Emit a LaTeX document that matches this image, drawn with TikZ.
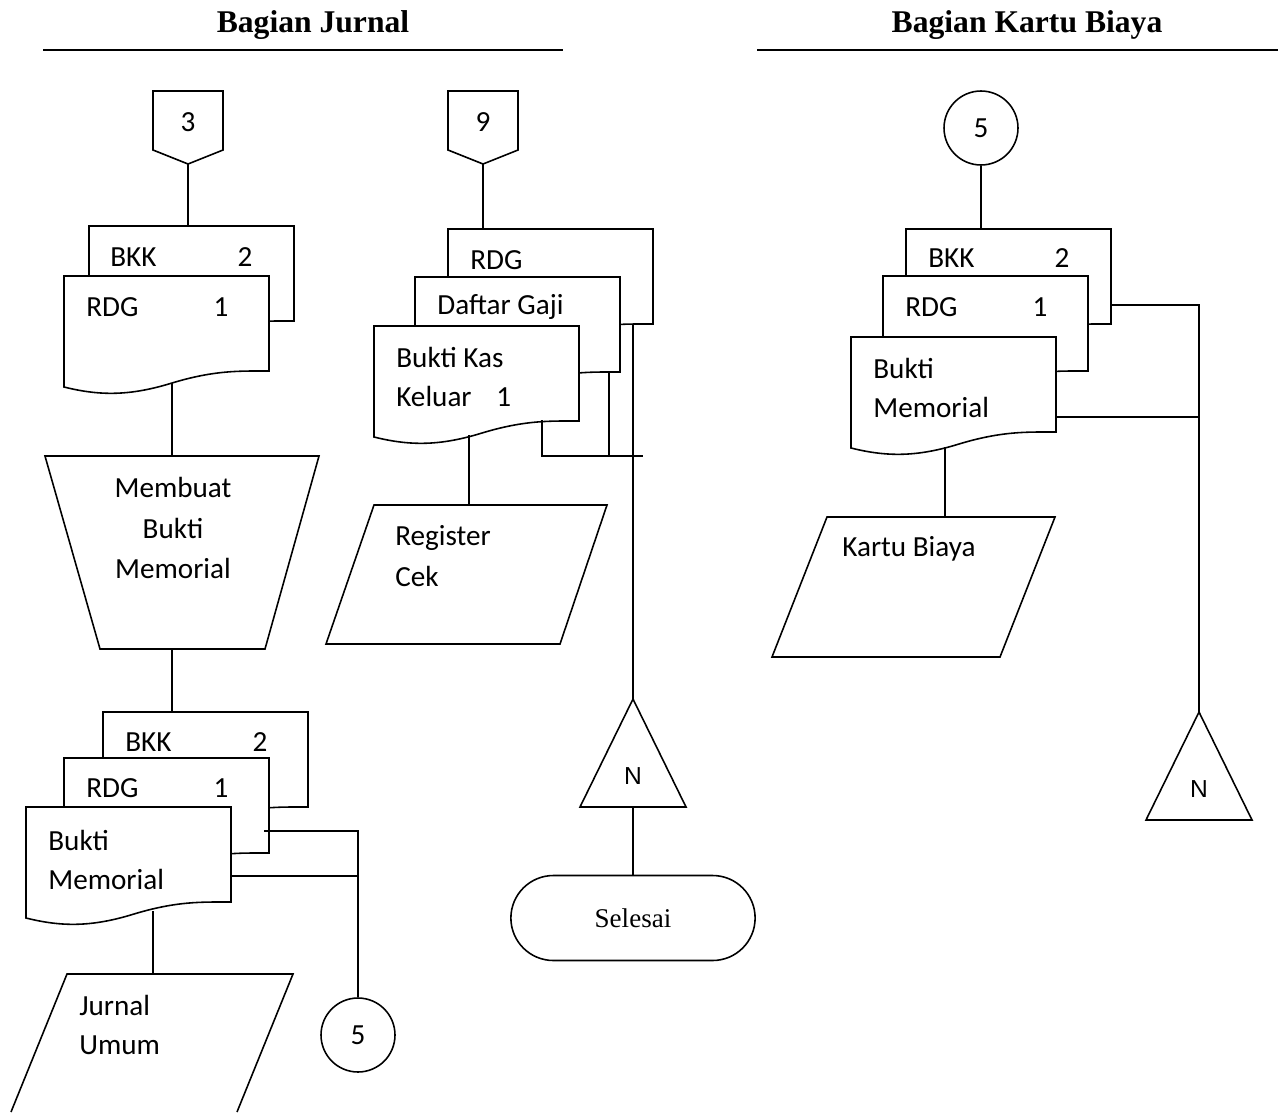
\documentclass[tikz,border=0pt]{standalone}
\usepackage{fontspec}
\setmainfont{Carlito}
\newfontfamily\serifjudul{Liberation Serif}
\newfontfamily\arialfont{Liberation Sans}
\usetikzlibrary{positioning,shapes.misc}

\begin{document}
\begin{tikzpicture}[x=0.02cm, y=-0.02cm, font=\fontsize{16.6}{22.7}\selectfont,
                    c/.style={line width=0.9pt, line join=miter},
                    teks/.style={inner sep=0pt, anchor=west, align=left},
                    angka/.style={inner sep=0pt},
                    judul/.style={inner sep=0pt, font=\serifjudul\bfseries\fontsize{18}{20}\selectfont},
                    lingkaran/.style={c, draw, fill=white, circle, minimum size=1.48cm, inner sep=0pt},
                    terminal/.style={c, draw, rounded rectangle, minimum width=5.12cm, minimum height=1.7cm,
                                     font=\serifjudul\fontsize{15.4}{18}\selectfont},
                    pics/dok/.style={code={
                      \draw[c, fill=white] (0,0) -- (205,0) -- (205,95)
                        .. controls (176,95) and (151,94) .. (108,107)
                        .. controls (66,120) and (36,120) .. (0,111) -- cycle;
                      \coordinate (-nw) at (0,0);}},
                    pics/offpage/.style={code={
                      \draw[c, fill=white] (-35,0) -- (35,0) -- (35,59) -- (0,73) -- (-35,59) -- cycle;
                      \node[angka] (-teks) at (0,31) {#1};
                      \coordinate (-bawah) at (0,73);}},
                    pics/segitiga/.style={code={
                      \draw[c, fill=white] (0,0) -- (53,108) -- (-53,108) -- cycle;
                      \node[angka, font=\arialfont\fontsize{14}{16}\selectfont] (-teks) at (0,77) {N};
                      \coordinate (-puncak) at (0,0);
                      \coordinate (-alas) at (0,108);}}]
  \useasboundingbox (0,0) rectangle (1284,1112);

  % judul
  \node[judul] (hJurnal) at (313,25) {Bagian Jurnal};
  \node[judul] (hKartu) at (1027,25) {Bagian Kartu Biaya};
  \draw[c] (43,50) -- (563,50);
  \draw[c] (757,50) -- (1278,50);

  % kolom kiri: Bagian Jurnal
  \pic (k3) at (188,91) {offpage=3};
  \pic (dA) at (89,226) {dok};
  \pic (dB) at (64,276) {dok};
  \node[teks] (bkkA) at (110,257) {BKK};
  \node[angka] (nA) at (245,257) {2};
  \node[teks] (rdgB) at (86,307) {RDG};
  \node[angka] (nB) at (221,307) {1};
  \coordinate (pB) at (172,383);

  \draw[c] (45,456) -- (319,456) -- (265,649) -- (100,649) -- cycle;
  \node[align=center, inner sep=0pt, font=\fontsize{16.6}{23.2}\selectfont] (membuat) at (173,528) {Membuat\\Bukti\\Memorial};
  \coordinate (mo-atas) at (172,456);
  \coordinate (mo-bawah) at (172,649);

  \pic (dC) at (103,712) {dok};
  \pic (dD) at (64,758) {dok};
  \pic (dE) at (26,807) {dok};
  \node[teks] (bkkC) at (125,742) {BKK};
  \node[angka] (nC) at (260,742) {2};
  \node[teks] (rdgD) at (86,788) {RDG};
  \node[angka] (nD) at (221,788) {1};
  \node[teks] (bmE) at (48,860) {Bukti\\Memorial};
  \coordinate (sA) at (264,831);
  \coordinate (sB) at (231,876);
  \coordinate (pE) at (153,911);

  \draw[c] (11,1112) -- (67,974) -- (293,974) -- (237,1112);
  \node[teks] (jurnal) at (79,1025) {Jurnal\\Umum};
  \coordinate (ju-atas) at (153,974);
  \node[lingkaran] (sam5b) at (358,1035) {5};

  \draw[c] (k3-bawah) -- (k3-bawah |- dA-nw);
  \draw[c] (pB) -- (mo-atas);
  \draw[c] (mo-bawah) -- (mo-bawah |- dC-nw);
  \draw[c] (sA) -| (sam5b.north);
  \draw[c] (sB) -- (sB -| sam5b.north);
  \draw[c] (pE) -- (ju-atas);

  % kolom tengah
  \pic (k9) at (483,91) {offpage=9};
  \pic (dF) at (448,229) {dok};
  \pic (dG) at (415,277) {dok};
  \pic (dH) at (374,326) {dok};
  \node[teks] (rdgF) at (470,260) {RDG};
  \node[teks] (dgG) at (437,307) {Daftar Gaji};
  \node[teks] (bkH) at (396,377) {Bukti Kas\\Keluar\hspace{0.85em}1};
  \coordinate (sC) at (542,420);
  \coordinate (sCe) at (643,456);
  \coordinate (sD) at (609,372);
  \coordinate (sE) at (633,324);
  \coordinate (pH) at (469,435);

  \draw[c] (374,505) -- (607,505) -- (560,644) -- (326,644) -- cycle;
  \node[teks, font=\fontsize{16.6}{23.8}\selectfont] (register) at (395,556) {Register\\Cek};
  \coordinate (rc-atas) at (469,505);

  \pic (segN1) at (633,699) {segitiga};
  \node[terminal] (selesai) at (633,918) {Selesai};

  \draw[c] (k9-bawah) -- (k9-bawah |- dF-nw);
  \draw[c] (sC) |- (sCe);
  \draw[c] (sD) -- (sD |- sCe);
  \draw[c] (sE) -- (segN1-puncak);
  \draw[c] (pH) -- (rc-atas);
  \draw[c] (segN1-alas) -- (selesai.north);

  % kolom kanan: Bagian Kartu Biaya
  \node[lingkaran] (sam5a) at (981,128) {5};
  \pic (dI) at (906,229) {dok};
  \pic (dJ) at (883,276) {dok};
  \pic (dK) at (851,337) {dok};
  \node[teks] (bkkI) at (928,258) {BKK};
  \node[angka] (nI) at (1062,258) {2};
  \node[teks] (rdgJ) at (905,307) {RDG};
  \node[angka] (nJ) at (1040,307) {1};
  \node[teks] (bmK) at (873,388) {Bukti\\Memorial};
  \coordinate (sF) at (1110,305);
  \coordinate (sG) at (1056,417);
  \coordinate (pK) at (945,447);

  \draw[c] (827,517) -- (1055,517) -- (1000,657) -- (772,657) -- cycle;
  \node[teks] (kartu) at (842,549) {Kartu Biaya};
  \coordinate (kb-atas) at (945,517);

  \pic (segN2) at (1199,712) {segitiga};

  \draw[c] (sam5a.south) -- (sam5a.south |- dI-nw);
  \draw[c] (sF) -| (segN2-puncak);
  \draw[c] (sG) -- (sG -| segN2-puncak);
  \draw[c] (pK) -- (kb-atas);
\end{tikzpicture}
\end{document}
